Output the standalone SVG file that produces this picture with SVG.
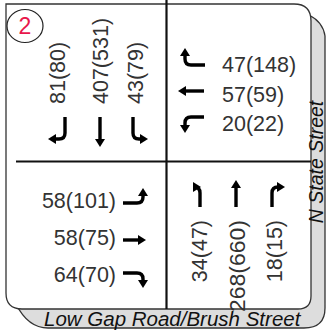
<svg xmlns="http://www.w3.org/2000/svg" width="327" height="335" viewBox="0 0 327 335">
<style>
.frame{fill:#fff;stroke:#333;stroke-width:1.3}
.band{fill:#dddddd;stroke:#333;stroke-width:1.3}
.cross{stroke:#111;stroke-width:2.2;fill:none}
.arr{stroke:#000;stroke-width:3.4;fill:none;stroke-linejoin:round}
.vol{font-family:"Liberation Sans",Arial,sans-serif;font-size:21.5px;fill:#333}
.street{font-family:"Liberation Sans",Arial,sans-serif;font-size:20.5px;font-style:italic;fill:#111}
</style>
<defs>
<marker id="ah" viewBox="0 0 8 10" refX="1" refY="5" markerWidth="8" markerHeight="10.5" markerUnits="userSpaceOnUse" orient="auto">
<path d="M0,0 L8,5 L0,10 Z" fill="#000"/>
</marker>
</defs>
<g id="background">
<path class="band" d="M16 304 C24 320 34 328 48 328 L304 328 Q325 328 325 308 L325 36 Q323 22 309 15 Z"/>
<path class="frame" d="M6 4 L294 4 Q311 4 311 21 L311 296 Q311 309 298 309 L22 309 Q6 309 6 293 Z"/>
</g>
<g id="connectors">
<line class="cross" x1="166.5" y1="0" x2="166.5" y2="309"/>
<line class="cross" x1="16" y1="161.5" x2="311" y2="161.5"/>
</g>
<g id="badge">
<ellipse cx="25" cy="26" rx="18" ry="16.5" fill="#fff" stroke="#222" stroke-width="1.2"/>
<text x="25" y="34" text-anchor="middle" font-family="Liberation Sans,Arial,sans-serif" font-size="23" fill="#e8174b">2</text>
</g>
<g id="southbound">
<path class="arr" marker-end="url(#ah)" d="M65 117 L65 133 Q65 139 59 139 L55 139"/>
<path class="arr" marker-end="url(#ah)" d="M100 117 L100 140"/>
<path class="arr" marker-end="url(#ah)" d="M133 117 L133 133 Q133 139 139 139 L141 139"/>
<text class="vol" transform="translate(65,104) rotate(-90)">81(80)</text>
<text class="vol" transform="translate(108,104) rotate(-90)">407(531)</text>
<text class="vol" transform="translate(143,104) rotate(-90)">43(79)</text>
</g>
<g id="westbound">
<path class="arr" marker-end="url(#ah)" d="M205 65 L191 65 Q185 65 185 59 L185 55"/>
<path class="arr" marker-end="url(#ah)" d="M204 91 L185 91"/>
<path class="arr" marker-end="url(#ah)" d="M204 117 L191 117 Q185 117 185 123 L185 126"/>
<text class="vol" x="222" y="72">47(148)</text>
<text class="vol" x="222" y="102">57(59)</text>
<text class="vol" x="222" y="131">20(22)</text>
</g>
<g id="eastbound">
<path class="arr" marker-end="url(#ah)" d="M123 203 L137 203 Q143 203 143 197 L143 195"/>
<path class="arr" marker-end="url(#ah)" d="M123 240 L139 240"/>
<path class="arr" marker-end="url(#ah)" d="M123 273 L137 273 Q143 273 143 279 L143 281"/>
<text class="vol" x="116" y="208" text-anchor="end">58(101)</text>
<text class="vol" x="116" y="245" text-anchor="end">58(75)</text>
<text class="vol" x="116" y="282" text-anchor="end">64(70)</text>
</g>
<g id="northbound">
<path class="arr" marker-end="url(#ah)" d="M200 207 L200 193 Q200 187 194 187 L194 187"/>
<path class="arr" marker-end="url(#ah)" d="M236 207 L236 187"/>
<path class="arr" marker-end="url(#ah)" d="M272 207 L272 193 Q272 187 278 187 L278 187"/>
<text class="vol" transform="translate(207,220) rotate(-90)" text-anchor="end">34(47)</text>
<text class="vol" transform="translate(245,220) rotate(-90)" text-anchor="end" textLength="92" lengthAdjust="spacingAndGlyphs">268(660)</text>
<text class="vol" transform="translate(282,220) rotate(-90)" text-anchor="end">18(15)</text>
</g>
<g id="streets">
<text class="street" x="44" y="326">Low Gap Road/Brush Street</text>
<text class="street" transform="translate(323,162) rotate(-90)" text-anchor="middle" style="font-size:19.5px">N State Street</text>
</g>
</svg>
